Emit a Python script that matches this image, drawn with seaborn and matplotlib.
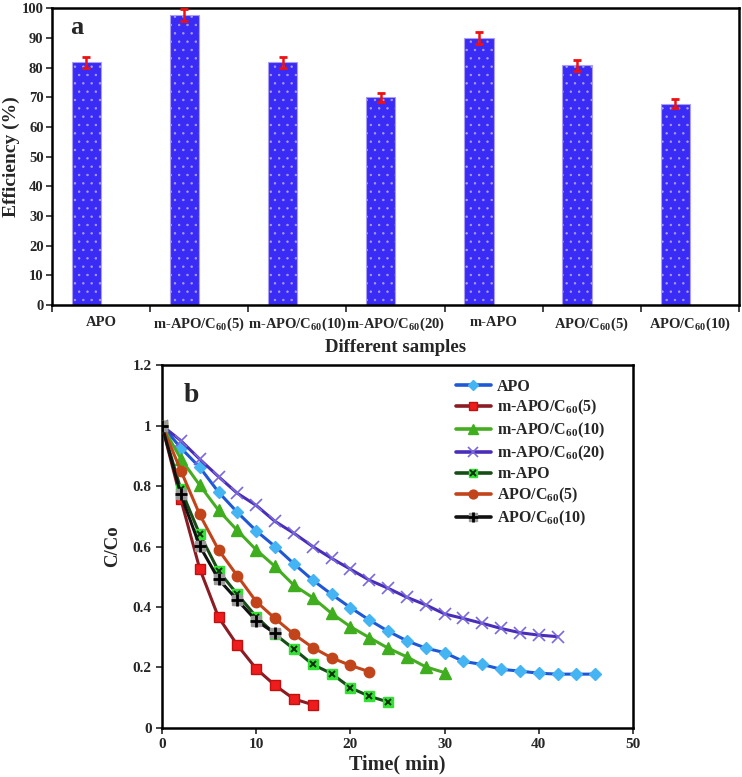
import numpy as np
import pandas as pd
import matplotlib
matplotlib.use("Agg")
import matplotlib.pyplot as plt
from matplotlib.lines import Line2D
from matplotlib.legend_handler import HandlerTuple
import seaborn as sns

# ---------------- data ----------------
samples = ["APO", "m-APO/C$_{60}$(5)", "m-APO/C$_{60}$(10)", "m-APO/C$_{60}$(20)",
           "m-APO", "APO/C$_{60}$(5)", "APO/C$_{60}$(10)"]
efficiency = [81.7, 97.7, 81.7, 70.0, 89.8, 80.7, 67.8]
eff_err = [2.0, 2.0, 2.0, 1.5, 2.0, 2.0, 1.6]

t_apo = [0, 2, 4, 6, 8, 10, 12, 14, 16, 18, 20, 22, 24, 26, 28, 30, 32, 34, 36, 38, 40, 42, 44, 46]
c_apo = [1.0, 0.926, 0.862, 0.78, 0.713, 0.652, 0.60, 0.543, 0.489, 0.442, 0.398, 0.357, 0.32,
         0.288, 0.264, 0.249, 0.22, 0.21, 0.194, 0.188, 0.181, 0.178, 0.178, 0.178]
t_mc5 = [0, 2, 4, 6, 8, 10, 12, 14, 16]
c_mc5 = [1.0, 0.756, 0.527, 0.366, 0.274, 0.196, 0.141, 0.096, 0.077]
t_mc10 = [0, 2, 4, 6, 8, 10, 12, 14, 16, 18, 20, 22, 24, 26, 28, 30]
c_mc10 = [1.0, 0.89, 0.803, 0.72, 0.653, 0.589, 0.534, 0.472, 0.431, 0.379, 0.335, 0.299,
          0.264, 0.235, 0.202, 0.183]
t_mc20 = [0, 2, 4, 6, 8, 10, 12, 14, 16, 18, 20, 22, 24, 26, 28, 30, 32, 34, 36, 38, 40, 42]
c_mc20 = [1.0, 0.95, 0.889, 0.831, 0.776, 0.736, 0.683, 0.644, 0.60, 0.561, 0.525, 0.489,
          0.462, 0.432, 0.407, 0.377, 0.362, 0.346, 0.329, 0.315, 0.307, 0.302]
t_mapo = [0, 2, 4, 6, 8, 10, 12, 14, 16, 18, 20, 22, 24]
c_mapo = [1.0, 0.789, 0.641, 0.519, 0.442, 0.368, 0.31, 0.261, 0.21, 0.18, 0.133, 0.105, 0.086]
t_ac5 = [0, 2, 4, 6, 8, 10, 12, 14, 16, 18, 20, 22]
c_ac5 = [1.0, 0.851, 0.706, 0.589, 0.503, 0.418, 0.362, 0.31, 0.266, 0.232, 0.207, 0.186]
t_ac10 = [0, 2, 4, 6, 8, 10, 12]
c_ac10 = [1.0, 0.772, 0.602, 0.492, 0.423, 0.355, 0.313]

series_names = ["APO", "m-APO/C$_{60}$(5)", "m-APO/C$_{60}$(10)", "m-APO/C$_{60}$(20)",
                "m-APO", "APO/C$_{60}$(5)", "APO/C$_{60}$(10)"]

# ---------------- style ----------------
sns.set_style("ticks")
plt.rcParams["font.family"] = ["Liberation Serif", "DejaVu Serif"]
plt.rcParams["font.weight"] = "bold"
plt.rcParams["axes.labelweight"] = "bold"
plt.rcParams["mathtext.fontset"] = "custom"
plt.rcParams["mathtext.rm"] = "Liberation Serif:bold"
plt.rcParams["mathtext.bf"] = "Liberation Serif:bold"
plt.rcParams["mathtext.it"] = "Liberation Serif:bold"
plt.rcParams["mathtext.default"] = "bf"
plt.rcParams["hatch.linewidth"] = 0.5

fig = plt.figure(figsize=(7.42, 7.77), dpi=100)
ax1 = fig.add_axes([0.070, 0.6075, 0.926, 0.382])
ax2 = fig.add_axes([0.2183, 0.0631, 0.6348, 0.4671])

# ---------------- panel a ----------------
df_a = pd.DataFrame({
    "sample": samples * 2,
    "eff": efficiency + [0.0] * len(samples),
    "series": ["main"] * len(samples) + ["blank"] * len(samples),
})
sns.barplot(data=df_a, x="sample", y="eff", hue="series", hue_order=["main", "blank"],
            palette={"main": "#3a2cf4", "blank": "white"}, width=0.6, dodge=True,
            errorbar=None, legend=False, ax=ax1, order=samples)
main_patches = ax1.patches[:len(samples)]
for p in main_patches:
    p.set_facecolor("#3a2cf4")
    p.set_hatch("..")
    p.set_edgecolor("#a99ef2")
    p.set_linewidth(0.8)
for p in ax1.patches[len(samples):]:
    p.set_linewidth(0)
xc = [p.get_x() + p.get_width() / 2 for p in main_patches]
ax1.errorbar(xc, efficiency, yerr=eff_err, fmt="none", ecolor="#ee1111",
             elinewidth=1.8, capsize=3, capthick=2, zorder=5)

ax1.set_xlim(-0.5, len(samples) - 0.5)
ax1.set_ylim(0, 100)
ax1.set_yticks(np.arange(0, 101, 10))
ax1.set_xticks(range(len(samples)))
ax1.set_xticklabels(samples, fontsize=10.5, fontweight="bold")
ax1.set_xticks(np.arange(-0.5, len(samples), 1), minor=True)
ax1.tick_params(axis="x", which="major", length=0, pad=8)
ax1.tick_params(axis="x", which="minor", length=5, width=1.2, direction="out")
ax1.tick_params(axis="y", labelsize=10.5, length=4, width=1.2, direction="out", pad=2)
for lab in ax1.get_yticklabels():
    lab.set_fontweight("bold")
ax1.set_xlabel("Different samples", fontsize=13.5, fontweight="bold", labelpad=4)
ax1.set_ylabel("Efficiency (%)", fontsize=14, fontweight="bold", labelpad=1)
for s in ax1.spines.values():
    s.set_visible(True)
    s.set_linewidth(1.8)
    s.set_color("black")
ax1.text(0.026, 0.975, "a", transform=ax1.transAxes, fontsize=19, fontweight="bold",
         va="top", ha="left")

# ---------------- panel b ----------------
specs = [
    (t_apo, c_apo, dict(color="#1f58d6", marker="D", ms=6, mfc="#45b4f2", mec="#45b4f2")),
    (t_mc5, c_mc5, dict(color="#8a1c24", marker="s", ms=7.5, mfc="#ee1c1c", mec="#c01010")),
    (t_mc10, c_mc10, dict(color="#46ad23", marker="^", ms=8, mfc="#3eae1e", mec="#3eae1e")),
    (t_mc20, c_mc20, dict(color="#4a2eb8", marker="x", ms=9, mfc="none", mec="#7a68dc", mew=1.2)),
    (t_mapo, c_mapo, dict(color="#174d17", marker="s", ms=7, mfc="#33e033", mec="#33e033")),
    (t_ac5, c_ac5, dict(color="#c2441a", marker="o", ms=7.5, mfc="#c2441a", mec="#c2441a")),
    (t_ac10, c_ac10, dict(color="#111111", marker="s", ms=7.5, mfc="#9a9a9a", mec="#9a9a9a")),
]
overlays = {4: dict(marker="x", ms=5, color="#103010", mew=1.4),
            6: dict(marker="+", ms=9, color="#000000", mew=2.0)}

handles = []
for i, (tt, cc, kw) in enumerate(specs):
    sns.lineplot(x=tt, y=cc, ax=ax2, linewidth=2.2, legend=False, zorder=3 + i,
                 color=kw["color"], marker=kw["marker"], markersize=kw["ms"],
                 markerfacecolor=kw["mfc"], markeredgecolor=kw["mec"],
                 markeredgewidth=kw.get("mew", 1.0))
    h = Line2D([], [], color=kw["color"], lw=2.6, marker=kw["marker"], markersize=kw["ms"] * 0.85,
               markerfacecolor=kw["mfc"], markeredgecolor=kw["mec"], markeredgewidth=kw.get("mew", 1.0))
    if i in overlays:
        ov = overlays[i]
        sns.lineplot(x=tt, y=cc, ax=ax2, linestyle="none", legend=False, zorder=3 + i,
                     marker=ov["marker"], markersize=ov["ms"], color=ov["color"],
                     markeredgecolor=ov["color"], markeredgewidth=ov["mew"])
        h2 = Line2D([], [], linestyle="none", marker=ov["marker"], markersize=ov["ms"] * 0.85,
                    color=ov["color"], markeredgecolor=ov["color"], markeredgewidth=ov["mew"])
        handles.append((h, h2))
    else:
        handles.append(h)

ax2.set_xlim(0, 50)
ax2.set_ylim(0, 1.2)
ax2.set_xticks(np.arange(0, 51, 10))
ax2.set_yticks([0, 0.2, 0.4, 0.6, 0.8, 1.0, 1.2])
ax2.set_yticklabels(["0", "0.2", "0.4", "0.6", "0.8", "1", "1.2"])
ax2.tick_params(axis="both", labelsize=11, length=4, width=1.2, direction="out")
for lab in ax2.get_xticklabels() + ax2.get_yticklabels():
    lab.set_fontweight("bold")
ax2.set_xlabel("Time( min)", fontsize=14.5, fontweight="bold", labelpad=2)
ax2.set_ylabel("C/Co", fontsize=13.5, fontweight="bold", labelpad=8)
for s in ax2.spines.values():
    s.set_visible(True)
    s.set_linewidth(1.8)
    s.set_color("black")
ax2.text(0.045, 0.95, "b", transform=ax2.transAxes, fontsize=20, fontweight="bold",
         va="top", ha="left")

leg = ax2.legend(handles, series_names, loc="upper left", bbox_to_anchor=(0.61, 0.98),
                 frameon=False, fontsize=11.5, labelspacing=0.22, handlelength=2.2,
                 handletextpad=0.4, borderaxespad=0.0,
                 handler_map={tuple: HandlerTuple(ndivide=1)})
for txt in leg.get_texts():
    txt.set_fontweight("bold")

fig.savefig("out.png", dpi=100, facecolor="white")
